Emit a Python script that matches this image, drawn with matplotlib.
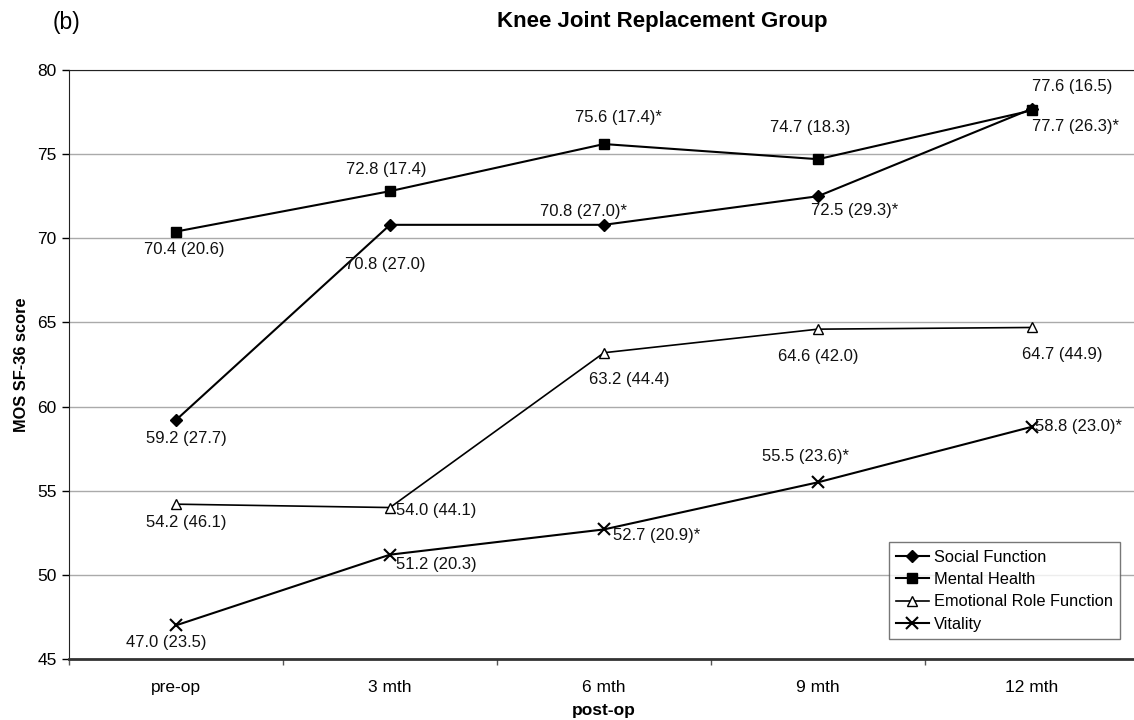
import matplotlib.pyplot as plt
import numpy as np

plt.rcParams['font.family'] = ['Liberation Sans', 'DejaVu Sans']

periods = ["pre-op", "3 mth", "6 mth", "9 mth", "12 mth"]

social = [59.2, 70.8, 70.8, 72.5, 77.7]
social_txt = ["59.2 (27.7)", "70.8 (27.0)", "70.8 (27.0)*", "72.5 (29.3)*", "77.7 (26.3)*"]
mental = [70.4, 72.8, 75.6, 74.7, 77.6]
mental_txt = ["70.4 (20.6)", "72.8 (17.4)", "75.6 (17.4)*", "74.7 (18.3)", "77.6 (16.5)"]
emotional = [54.2, 54.0, 63.2, 64.6, 64.7]
emotional_txt = ["54.2 (46.1)", "54.0 (44.1)", "63.2 (44.4)", "64.6 (42.0)", "64.7 (44.9)"]
vitality = [47.0, 51.2, 52.7, 55.5, 58.8]
vitality_txt = ["47.0 (23.5)", "51.2 (20.3)", "52.7 (20.9)*", "55.5 (23.6)*", "58.8 (23.0)*"]

# label offsets in pixels (dx, dy) and horizontal alignment per point
social_off = [((10, -18), 'center'), ((-5, -40), 'center'), ((-21, 13), 'center'),
              ((-7, -14), 'left'), ((0, -18), 'left')]
mental_off = [((8, -18), 'center'), ((-4, 22), 'center'), ((14, 27), 'center'),
              ((-8, 32), 'center'), ((0, 24), 'left')]
emotional_off = [((10, -18), 'center'), ((6, -3), 'left'), ((25, -27), 'center'),
                 ((0, -27), 'center'), ((30, -27), 'center')]
vitality_off = [((-10, -17), 'center'), ((6, -10), 'left'), ((9, -6), 'left'),
                ((-13, 26), 'center'), ((3, 0), 'left')]

fig = plt.figure(figsize=(11.34, 7.2), dpi=100)
ax = fig.add_axes([69 / 1134, 61 / 720, 1070 / 1134, 589 / 720])

x = np.arange(len(periods))

ax.plot(x, social, color='black', lw=1.5, marker='D', ms=6, mfc='black', mec='black',
        label='Social Function', zorder=3)
ax.plot(x, mental, color='black', lw=1.5, marker='s', ms=7, mfc='black', mec='black',
        label='Mental Health', zorder=3)
ax.plot(x, emotional, color='black', lw=1.2, marker='^', ms=7, mfc='white', mec='black',
        label='Emotional Role Function', zorder=3)
ax.plot(x, vitality, color='black', lw=1.5, marker='x', ms=8, mew=1.5,
        label='Vitality', zorder=3)

for vals, txts, offs in [(social, social_txt, social_off), (mental, mental_txt, mental_off),
                         (emotional, emotional_txt, emotional_off),
                         (vitality, vitality_txt, vitality_off)]:
    for i in range(len(vals)):
        (dx, dy), ha = offs[i]
        ax.annotate(txts[i], (x[i], vals[i]), xytext=(dx, dy), textcoords='offset pixels',
                    ha=ha, va='center', fontsize=12, color='#111111', zorder=4)

ax.set_xlim(-0.5, 4.5)
ax.set_ylim(45, 80)
ax.set_yticks(np.arange(45, 81, 5))
ax.yaxis.grid(True, color='#aaaaaa', lw=1)
ax.set_axisbelow(True)

ax.set_xticks(x)
ax.set_xticklabels(periods)
ax.set_xticks(np.arange(-0.5, 5, 1), minor=True)
ax.tick_params(axis='x', which='major', length=0, pad=15, labelsize=12.5)
ax.tick_params(axis='x', which='minor', length=4, width=1, color='#555555')
ax.tick_params(axis='y', length=5, width=1, labelsize=12.5, pad=4)

ax.spines['right'].set_visible(False)
ax.spines['top'].set_color('#222222')
ax.spines['left'].set_color('#222222')
ax.spines['bottom'].set_color('#333333')
ax.spines['bottom'].set_linewidth(2)

ax.set_ylabel('MOS SF-36 score', fontsize=11.8, fontweight='bold', labelpad=6)
ax.set_xlabel('post-op', fontsize=12.5, fontweight='bold', labelpad=6)

leg = ax.legend(loc='lower right', bbox_to_anchor=(1120 / 1134, 81 / 720),
                bbox_transform=fig.transFigure, fontsize=11.8, frameon=True,
                fancybox=False, edgecolor='#555555', handlelength=2.0,
                handletextpad=0.3, borderpad=0.45, labelspacing=0.45,
                borderaxespad=0)
leg.get_frame().set_linewidth(1)

fig.text(53 / 1134, 1 - 22 / 720, '(b)', fontsize=16.5, ha='left', va='center')
fig.text(662 / 1134, 1 - 22 / 720, 'Knee Joint Replacement Group', fontsize=16,
         fontweight='bold', ha='center', va='center')

fig.savefig('out.png', dpi=100, facecolor='white')
